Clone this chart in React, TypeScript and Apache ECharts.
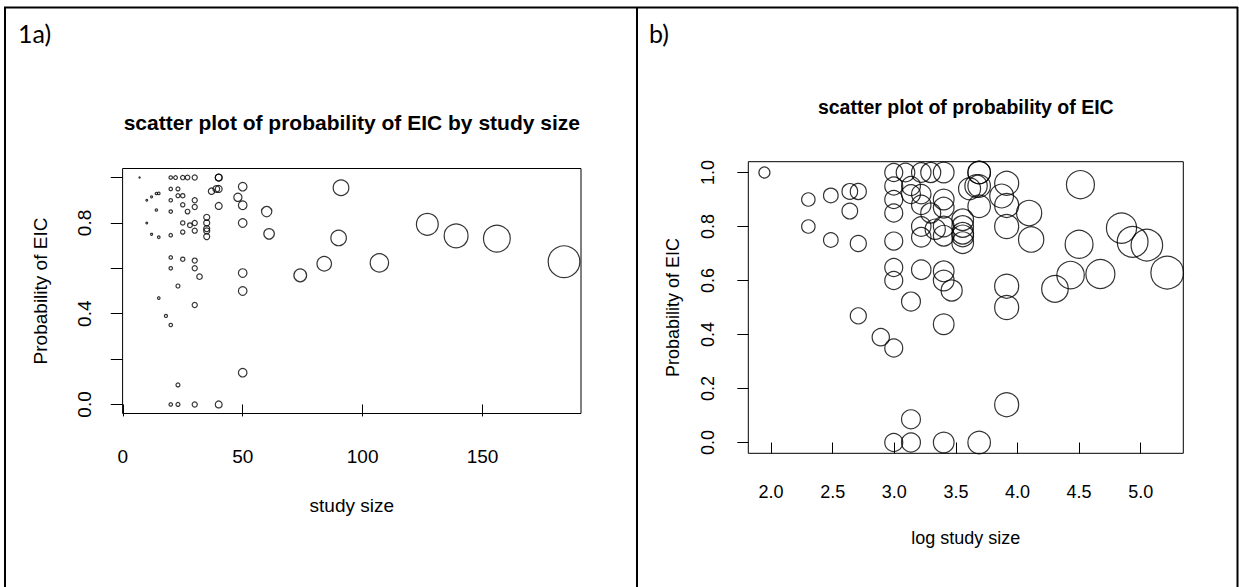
import React, { useEffect, useRef } from "react";
import * as echarts from "echarts";

// Study size and probability of EIC for each study
const STUDY_SIZE = [
  7, 20, 22, 25, 27, 30, 40, 40,
  20, 23, 37, 39, 40, 50, 91,
  23, 25, 14, 15, 12, 10, 20, 30, 48,
  25, 30, 27, 20, 14, 40, 50, 60, 35,
  10, 25, 28, 30, 35, 35, 35, 50, 127,
  35, 12, 15, 20, 25, 30, 61, 90, 139, 156,
  20, 25, 30, 20, 30, 32, 50, 74, 84, 107, 184,
  23, 50, 15, 30, 18, 20, 50, 23,
  20, 23, 30, 40,
];
const PROB_EIC = [
  1, 1, 1, 1, 1, 1, 1, 1,
  0.95, 0.95, 0.94, 0.95, 0.95, 0.96, 0.955,
  0.92, 0.92, 0.93, 0.93, 0.915, 0.9, 0.9, 0.9, 0.913,
  0.88, 0.87, 0.85, 0.85, 0.857, 0.875, 0.878, 0.85, 0.825,
  0.8, 0.8, 0.79, 0.8, 0.8, 0.775, 0.765, 0.8, 0.794,
  0.74, 0.75, 0.737, 0.746, 0.76, 0.766, 0.752, 0.734, 0.743, 0.731,
  0.648, 0.64, 0.634, 0.6, 0.6, 0.563, 0.579, 0.569, 0.62, 0.624, 0.629,
  0.522, 0.5, 0.469, 0.438, 0.39, 0.35, 0.14, 0.086,
  0, 0, 0, 0,
];

const X_TICKS_A = [0, 50, 100, 150];
const Y_TICKS = [0, 0.2, 0.4, 0.6, 0.8, 1.0];
const Y_LABELS_A = [0, 0.4, 0.8];
const X_TICKS_B = [2.0, 2.5, 3.0, 3.5, 4.0, 4.5, 5.0];

const TITLE_A = "scatter plot of probability of EIC by study size";
const TITLE_B = "scatter plot of probability of EIC";
const X_NAME_A = "study size";
const X_NAME_B = "log study size";
const Y_NAME = "Probability of EIC";

const FONT = "'Liberation Sans', Arial, Helvetica, sans-serif";
const PANEL_FONT = "Lato, 'Open Sans', sans-serif";

// R-style axis extent: data range extended by 4% on both sides
function rRange(vals: number[]): [number, number] {
  const lo = Math.min(...vals);
  const hi = Math.max(...vals);
  const d = (hi - lo) * 0.04;
  return [lo - d, hi + d];
}

export default function App() {
  const ref = useRef<HTMLDivElement>(null);

  useEffect(() => {
    if (!ref.current) return;
    const chart = echarts.init(ref.current, null, { renderer: "svg" });

    const logSizes = STUDY_SIZE.map((s) => Math.log(s));
    const [xaMin, xaMax] = rRange(STUDY_SIZE);
    const [xbMin, xbMax] = rRange(logSizes);
    const [yMin, yMax] = rRange(PROB_EIC);

    const dataA = STUDY_SIZE.map((s, i) => [s, PROB_EIC[i]]);
    const dataB = STUDY_SIZE.map((s, i) => [Math.log(s), PROB_EIC[i], s]);

    const tickStyle = { color: "#000", width: 1 };
    const circleStyle = {
      color: "rgba(0,0,0,0)",
      borderColor: "#000",
      borderWidth: 1.2,
    };

    const option: any = {
      animation: false,
      backgroundColor: "#fff",
      grid: [
        {
          left: 122.6,
          top: 168.5,
          width: 458.4,
          height: 245,
          show: true,
          borderColor: "#000",
          borderWidth: 1,
          backgroundColor: "rgba(0,0,0,0)",
        },
        {
          left: 748.3,
          top: 161.7,
          width: 435,
          height: 291.6,
          show: true,
          borderColor: "#000",
          borderWidth: 1,
          backgroundColor: "rgba(0,0,0,0)",
        },
      ],
      xAxis: [
        {
          type: "value",
          gridIndex: 0,
          min: xaMin,
          max: xaMax,
          splitLine: { show: false },
          axisLine: { show: false },
          axisTick: {
            show: true,
            length: 12,
            customValues: X_TICKS_A,
            lineStyle: tickStyle,
          },
          axisLabel: {
            customValues: X_TICKS_A,
            margin: 33,
            fontSize: 19,
            fontFamily: FONT,
            color: "#000",
            formatter: (v: number) => String(v),
          },
          name: X_NAME_A,
          nameLocation: "middle",
          nameGap: 82,
          nameTextStyle: { fontSize: 19, fontFamily: FONT, color: "#000" },
        },
        {
          type: "value",
          gridIndex: 1,
          min: xbMin,
          max: xbMax,
          splitLine: { show: false },
          axisLine: { show: false },
          axisTick: {
            show: true,
            length: 11,
            customValues: X_TICKS_B,
            lineStyle: tickStyle,
          },
          axisLabel: {
            customValues: X_TICKS_B,
            margin: 30,
            fontSize: 18,
            fontFamily: FONT,
            color: "#000",
            formatter: (v: number) => v.toFixed(1),
          },
          name: X_NAME_B,
          nameLocation: "middle",
          nameGap: 76,
          nameTextStyle: { fontSize: 18, fontFamily: FONT, color: "#000" },
        },
      ],
      yAxis: [
        {
          type: "value",
          gridIndex: 0,
          min: yMin,
          max: yMax,
          splitLine: { show: false },
          axisLine: { show: false },
          axisTick: {
            show: true,
            length: 12,
            customValues: Y_TICKS,
            lineStyle: tickStyle,
          },
          axisLabel: {
            customValues: Y_LABELS_A,
            rotate: 90,
            margin: 29,
            fontSize: 19,
            fontFamily: FONT,
            color: "#000",
            formatter: (v: number) => v.toFixed(1),
          },
          name: Y_NAME,
          nameLocation: "middle",
          nameGap: 73,
          nameTextStyle: { fontSize: 19, fontFamily: FONT, color: "#000" },
        },
        {
          type: "value",
          gridIndex: 1,
          min: yMin,
          max: yMax,
          splitLine: { show: false },
          axisLine: { show: false },
          axisTick: {
            show: true,
            length: 11,
            customValues: Y_TICKS,
            lineStyle: tickStyle,
          },
          axisLabel: {
            customValues: Y_TICKS,
            rotate: 90,
            margin: 31,
            fontSize: 18,
            fontFamily: FONT,
            color: "#000",
            formatter: (v: number) => v.toFixed(1),
          },
          name: Y_NAME,
          nameLocation: "middle",
          nameGap: 66,
          nameTextStyle: { fontSize: 18, fontFamily: FONT, color: "#000" },
        },
      ],
      series: [
        {
          type: "scatter",
          xAxisIndex: 0,
          yAxisIndex: 0,
          data: dataA,
          symbol: "circle",
          symbolSize: (v: number[]) => 0.172 * v[0],
          itemStyle: circleStyle,
          silent: true,
          emphasis: { disabled: true },
          clip: false,
        },
        {
          type: "scatter",
          xAxisIndex: 1,
          yAxisIndex: 1,
          data: dataB,
          symbol: "circle",
          symbolSize: (v: number[]) => 6.6 * Math.log(v[2]) - 1.8,
          itemStyle: circleStyle,
          silent: true,
          emphasis: { disabled: true },
          clip: false,
        },
      ],
      graphic: [
        { type: "line", shape: { x1: 4, y1: 7.5, x2: 1238, y2: 7.5 }, style: { stroke: "#000", lineWidth: 2 } },
        { type: "line", shape: { x1: 5, y1: 7, x2: 5, y2: 587 }, style: { stroke: "#000", lineWidth: 2 } },
        { type: "line", shape: { x1: 637, y1: 7, x2: 637, y2: 587 }, style: { stroke: "#000", lineWidth: 2 } },
        { type: "line", shape: { x1: 1237.5, y1: 7, x2: 1237.5, y2: 587 }, style: { stroke: "#000", lineWidth: 2 } },
        {
          type: "text",
          x: 18,
          y: 33,
          style: { text: "1a)", fontSize: 25, fontFamily: PANEL_FONT, fill: "#000", textVerticalAlign: "middle" },
        },
        {
          type: "text",
          x: 649,
          y: 33,
          style: { text: "b)", fontSize: 25, fontFamily: PANEL_FONT, fill: "#000", textVerticalAlign: "middle" },
        },
        {
          type: "text",
          x: 351.8,
          y: 122,
          style: { text: TITLE_A, fontSize: 21, fontWeight: "bold", fontFamily: FONT, fill: "#000", textAlign: "center", textVerticalAlign: "middle" },
        },
        {
          type: "text",
          x: 965.8,
          y: 107,
          style: { text: TITLE_B, fontSize: 19.5, fontWeight: "bold", fontFamily: FONT, fill: "#000", textAlign: "center", textVerticalAlign: "middle" },
        },
      ],
    };

    chart.setOption(option);
    return () => chart.dispose();
  }, []);

  return (
    <div
      ref={ref}
      style={{ position: "absolute", left: 0, top: 0, width: 1239, height: 587, background: "#fff" }}
    />
  );
}
